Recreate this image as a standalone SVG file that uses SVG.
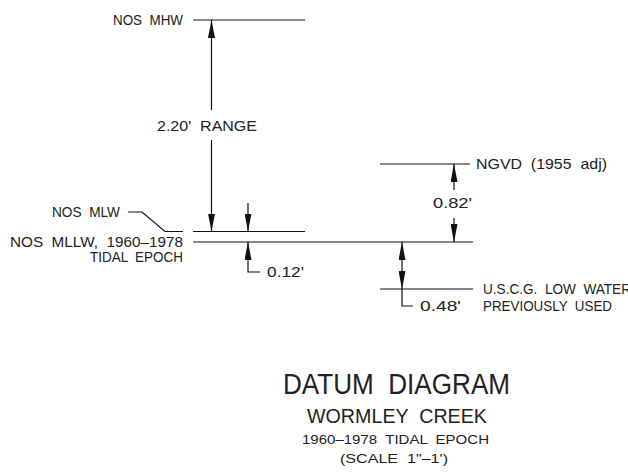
<svg xmlns="http://www.w3.org/2000/svg" width="628" height="472" viewBox="0 0 628 472">
<style>
.ln{stroke:#111;stroke-width:1.2;fill:none}
.t{font-family:"Liberation Sans",Arial,sans-serif;font-size:14.5px;fill:#222;white-space:pre}
.e{text-anchor:end}
.m{text-anchor:middle}
</style>
<defs>
<marker id="ah" viewBox="0 0 18 7" refX="18" refY="3.5" markerWidth="18" markerHeight="7" markerUnits="userSpaceOnUse" orient="auto-start-reverse">
<path d="M0,0 L18,3.5 L0,7 z" fill="#111"/>
</marker>
</defs>
<rect width="628" height="472" fill="#fff"/>
<g id="mhw">
<line class="ln" x1="193" y1="20" x2="305" y2="20"/>
<text class="t" x="113" y="25" textLength="70" lengthAdjust="spacingAndGlyphs" xml:space="preserve">NOS  MHW</text>
</g>
<g id="mlw">
<line class="ln" x1="193" y1="231.5" x2="305" y2="231.5"/>
<text class="t" x="52" y="217" textLength="68" lengthAdjust="spacingAndGlyphs" xml:space="preserve">NOS  MLW</text>
</g>
<g id="mllw">
<line class="ln" x1="193" y1="242" x2="473" y2="242"/>
<text class="t" x="10" y="247" textLength="173" lengthAdjust="spacingAndGlyphs" xml:space="preserve">NOS  MLLW,  1960–1978</text>
<text class="t" x="90" y="262" textLength="93" lengthAdjust="spacingAndGlyphs" xml:space="preserve">TIDAL  EPOCH</text>
</g>
<g id="ngvd">
<line class="ln" x1="380" y1="164" x2="470" y2="164"/>
<text class="t" x="476" y="169" textLength="131" lengthAdjust="spacingAndGlyphs" xml:space="preserve">NGVD  (1955  adj)</text>
</g>
<g id="uscg">
<line class="ln" x1="380" y1="289" x2="473" y2="289"/>
<text class="t" x="483" y="294" textLength="148" lengthAdjust="spacingAndGlyphs" xml:space="preserve">U.S.C.G.  LOW  WATER</text>
<text class="t" x="483" y="311" textLength="129" lengthAdjust="spacingAndGlyphs" xml:space="preserve">PREVIOUSLY  USED</text>
</g>
<g id="range">
<text class="t" x="157" y="131" textLength="100" lengthAdjust="spacingAndGlyphs" xml:space="preserve">2.20'  RANGE</text>
</g>
<g id="d012">
<text class="t" x="267" y="277" textLength="37" lengthAdjust="spacingAndGlyphs">0.12'</text>
</g>
<g id="d082">
<text class="t" x="433" y="208" textLength="39" lengthAdjust="spacingAndGlyphs">0.82'</text>
</g>
<g id="d048">
<text class="t" x="420" y="311" textLength="41" lengthAdjust="spacingAndGlyphs">0.48'</text>
</g>
<g id="connectors">
<path class="ln" d="M128,212 L142,212 L165,231.5 L183,231.5"/>
<path class="ln" d="M211.5,110 L211.5,20" marker-end="url(#ah)"/>
<path class="ln" d="M211.5,140 L211.5,231.5" marker-end="url(#ah)"/>
<path class="ln" d="M248,203 L248,231.5" marker-end="url(#ah)"/>
<path class="ln" d="M260,272 L248,272 L248,242" marker-end="url(#ah)"/>
<path class="ln" d="M454,190 L454,164" marker-end="url(#ah)"/>
<path class="ln" d="M454,218 L454,242" marker-end="url(#ah)"/>
<path class="ln" d="M402,242 L402,289" marker-start="url(#ah)" marker-end="url(#ah)"/>
<path class="ln" d="M402,289 L402,306 L413,306"/>
</g>
<g id="title">
<text class="t m" x="396.5" y="394" style="font-size:29px" textLength="227" lengthAdjust="spacingAndGlyphs" xml:space="preserve">DATUM  DIAGRAM</text>
<text class="t m" x="397" y="423" style="font-size:19.5px" textLength="180" lengthAdjust="spacingAndGlyphs" xml:space="preserve">WORMLEY  CREEK</text>
<text class="t m" x="395.5" y="444" style="font-size:13.5px" textLength="187" lengthAdjust="spacingAndGlyphs" xml:space="preserve">1960–1978  TIDAL  EPOCH</text>
<text class="t m" x="394" y="463" style="font-size:13px" textLength="108" lengthAdjust="spacingAndGlyphs" xml:space="preserve">(SCALE  1"–1')</text>
</g>
</svg>
